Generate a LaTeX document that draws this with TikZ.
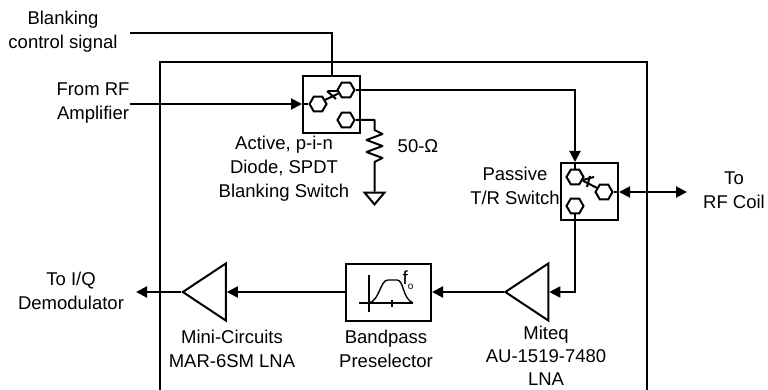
\documentclass[tikz,border=0pt]{standalone}
\usepackage{fontspec}
\setmainfont{Liberation Sans}
\usepackage{tikz}
\usetikzlibrary{arrows.meta,shapes.geometric}

\tikzset{
	wire/.style={line width=2pt},
	arrowwire/.style={wire, -{Triangle[length=11pt,width=11pt]}},
	bothwire/.style={wire, {Triangle[length=11pt,width=11pt]}-{Triangle[length=11pt,width=11pt]}},
	thinwire/.style={line width=1.4pt},
	switchbox/.style={draw, line width=2pt, minimum width=57pt, minimum height=57pt, inner sep=0pt},
	contact/.style={draw, line width=2pt, regular polygon, regular polygon sides=6, minimum size=17pt, inner sep=0pt},
	amp/.style={draw, line width=2pt, isosceles triangle, isosceles triangle apex angle=67, isosceles triangle stretches, shape border rotate=180, minimum width=57pt, minimum height=43pt, inner sep=0pt, anchor=apex},
	label/.style={align=center, inner sep=0pt, font=\fontsize{18.5}{24}\selectfont}
}

\begin{document}
\begin{tikzpicture}[x=1pt, y=-1pt]
	\useasboundingbox (0,0) rectangle (768,390);
	% Enclosure
	\draw[wire] (160,390) -- (160,62) -- (647,62) -- (647,390);
	% Blocks
	\node[switchbox] (blank) at (331.5,105) {};
	\node[switchbox] (tr) at (589.5,191.5) {};
	\node[draw, line width=2pt, minimum width=85pt, minimum height=57pt, inner sep=0pt] (filter) at (388.5,292) {};
	\node[amp] (lna) at (503.5,292) {};
	\node[amp] (mar) at (181,292) {};
	% Contacts
	\node[contact] (blankin) at (318,104) {};
	\node[contact] (blankup) at (346,90) {};
	\node[contact] (blanklow) at (346,120) {};
	\node[contact] (trtop) at (575,177) {};
	\node[contact] (trcom) at (604,192) {};
	\node[contact] (trlow) at (575,206) {};
	\node[draw, line width=2pt, isosceles triangle, isosceles triangle apex angle=80, shape border rotate=-90, minimum width=20pt, inner sep=0pt, anchor=apex] (ground) at (374.5,206) {};
	% Free ends
	\coordinate (ctrl) at (130,33);
	\coordinate (rfin) at (130,104);
	\coordinate (coil) at (687,192);
	\coordinate (iq) at (136,292);
	\coordinate (restop) at (374.5,130);
	% Signal path
	\draw[wire] (ctrl) -| (blank.north);
	\draw[arrowwire] (rfin) -- (rfin -| blank.west);
	\draw[wire] (rfin -| blank.west) -- (blankin.west);
	\draw[arrowwire] (blankup.east) -| (trtop |- tr.north);
	\draw[wire] (tr.north -| trtop) -- (trtop.north);
	\draw[arrowwire] (trlow.south) -- (trlow |- lna.east) -- (lna.east);
	\draw[arrowwire] (lna.apex) -- (filter.east);
	\draw[arrowwire] (filter.west) -- (mar.east);
	\draw[arrowwire] (mar.apex) -- (iq);
	\draw[bothwire] (tr.east |- trcom) -- (coil);
	\draw[wire] (trcom.east) -- (tr.east |- trcom);
	% Switch arms
	\draw[wire] (blankin.30) -- (blankup.205);
	\draw[wire] (trcom.150) -- (trtop.-25);
	\draw[wire] (327,91) -- (336,99);
	\draw[wire] (328,91) -- (337,91);
	\draw[wire] (590,176) -- (587,187);
	\draw[wire] (583,180) -- (594,177);
	% Terminated port
	\draw[wire, line join=round] (blanklow.east) -| (restop) -- ++(8,4) -- ++(-16,6) -- ++(16,6) -- ++(-16,6) -- ++(16,6) -- ++(-8,4) -- (ground.north);
	% Filter response
	\draw[thinwire] (369,275) -- (369,312);
	\draw[thinwire] (359,303) -- (413,303);
	\draw[thinwire] (392,300) -- (392,307);
	\draw[thinwire] (369,303) .. controls (380,300) and (380,280) .. (388,280) -- (397,280) .. controls (404,280) and (402,298) .. (413,303);
	\node[inner sep=0pt, font=\fontsize{19}{20}\selectfont] (fzero) at (408,280) {f\raisebox{-5pt}{\fontsize{10}{10}\selectfont o}};
	% Labels
	\node[label] (ctrltext) at (63,32) {Blanking\\control signal};
	\node[label] (rftext) at (93,103.5) {From RF\\Amplifier};
	\node[label] (blanktext) at (284,169) {Active, p-i-n\\Diode, SPDT\\Blanking Switch};
	\node[label] (ohms) at (418,146) {50-Ω};
	\node[label] (trtext) at (515,186) {Passive\\T/R Switch};
	\node[label] (coiltext) at (734,190) {To\\RF Coil};
	\node[label] (iqtext) at (71,290.5) {To I/Q\\Demodulator};
	\node[label] (martext) at (232,349) {Mini-Circuits\\MAR-6SM LNA};
	\node[label] (filtertext) at (386,349) {Bandpass\\Preselector};
	\node[label, font=\fontsize{18.5}{23}\selectfont] (lnatext) at (546,355.5) {Miteq\\AU-1519-7480\\LNA};
\end{tikzpicture}
\end{document}
